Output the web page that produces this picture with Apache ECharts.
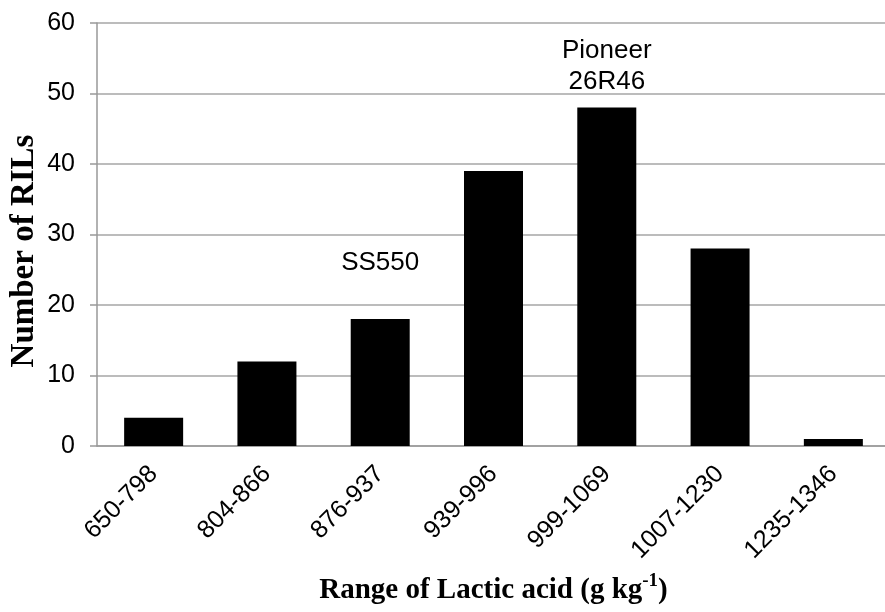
<!DOCTYPE html>
<html>
<head>
<meta charset="utf-8">
<script src="https://cdn.jsdelivr.net/npm/echarts@6/dist/echarts.min.js"></script>
<style>
  html, body { margin: 0; padding: 0; background: #fff; }
  #chart { width: 885px; height: 612px; }
</style>
</head>
<body>
<div id="chart"></div>
<script>
// lactic acid ranges (g/kg) and how many RILs fall in each
const categories = ["650-798", "804-866", "876-937", "939-996", "999-1069", "1007-1230", "1235-1346"];
const counts = [4, 12, 18, 39, 48, 28, 1];

// parent lines written over the bars
const noteCats = ["876-937", "999-1069"];
const noteVals = [26, 53.8];
const noteText = ["SS550", "Pioneer\n26R46"];

const chart = echarts.init(document.getElementById("chart"));
chart.setOption({
  backgroundColor: "#fff",
  animation: false,
  grid: {
    left: 97,
    right: -5,
    top: 23,
    bottom: 166,
    outerBoundsMode: "none"
  },
  // y title as free text so it can sit a little below the middle, like the original
  graphic: [
    {
      type: "text",
      x: 24,
      y: 251,
      rotation: Math.PI / 2,
      style: {
        text: "Number of RILs",
        fontFamily: "Liberation Serif",
        fontWeight: "bold",
        fontSize: 33,
        fill: "#000",
        align: "center",
        verticalAlign: "middle"
      }
    }
  ],
  xAxis: {
    type: "category",
    data: categories,
    axisTick: { show: false },
    axisLine: { lineStyle: { color: "#999", width: 1.5 } },
    axisLabel: {
      rotate: 45,
      margin: 24,
      fontFamily: "Liberation Sans",
      fontSize: 25,
      color: "#000"
    },
    name: "{t|Range of Lactic acid (g kg}{sup|-1}{t|)}",
    nameLocation: "middle",
    nameGap: 126,
    nameTextStyle: {
      rich: {
        t: {
          fontFamily: "Liberation Serif",
          fontWeight: "bold",
          fontSize: 29,
          color: "#000"
        },
        sup: {
          fontFamily: "Liberation Serif",
          fontWeight: "bold",
          fontSize: 19,
          color: "#000",
          padding: [0, 0, 18, 0]
        }
      }
    }
  },
  yAxis: {
    type: "value",
    min: 0,
    max: 60,
    interval: 10,
    axisLine: { show: true, lineStyle: { color: "#999", width: 1.5 } },
    axisTick: { show: true, length: 7, lineStyle: { color: "#999", width: 1.5 } },
    splitLine: { lineStyle: { color: "#a6a6a6", width: 1.5 } },
    axisLabel: {
      margin: 22,
      fontFamily: "Liberation Sans",
      fontSize: 25,
      color: "#000"
    }
  },
  series: [
    {
      type: "bar",
      data: counts,
      barWidth: 59,
      itemStyle: { color: "#000" },
      markPoint: {
        symbol: "circle",
        symbolSize: 0,
        label: {
          show: true,
          position: "inside",
          formatter: function (p) { return p.name; },
          fontFamily: "Liberation Sans",
          fontSize: 26,
          lineHeight: 31,
          color: "#000"
        },
        data: noteCats.map(function (c, i) {
          return { name: noteText[i], coord: [c, noteVals[i]] };
        })
      }
    }
  ]
});
</script>
</body>
</html>
